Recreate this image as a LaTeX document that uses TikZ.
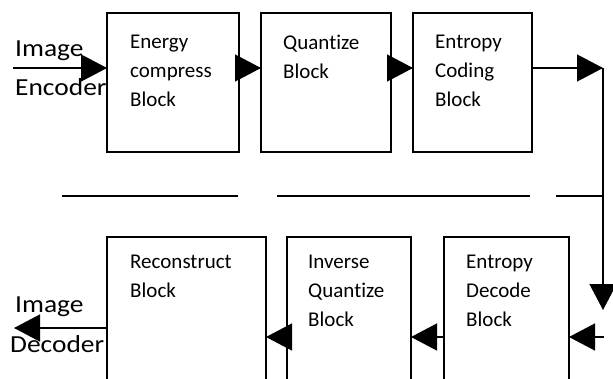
\documentclass[tikz,border=0pt]{standalone}
\usepackage{fontspec}
\setmainfont[RawFeature={-liga}]{Carlito}
\newfontfamily\lblfont[FakeStretch=1.12,RawFeature={-liga}]{Carlito}
\usetikzlibrary{arrows.meta,calc}
\begin{document}
\begin{tikzpicture}[x=1pt,y=-1pt,
  blk/.style={draw=black, line width=1.2pt, anchor=north west, inner sep=0pt, outer sep=0pt},
  blktext/.style={anchor=north west, align=left, inner sep=0pt, font=\fontsize{21}{29}\selectfont, text=black},
  lbl/.style={anchor=base west, inner sep=0pt, font=\lblfont\fontsize{24.5}{29}\selectfont, text=black},
  arr/.style={line width=1.3pt, -{Triangle[length=26pt,width=27pt]}},
  sepline/.style={line width=1.2pt}]
\useasboundingbox (0,0) rectangle (613,378);
\clip (0,0) rectangle (613,378);
% top row
\node[blk, minimum width=132pt, minimum height=139pt] (b1) at (107,13) {};
\node[blk, minimum width=130pt, minimum height=139pt] (b2) at (261,13) {};
\node[blk, minimum width=119pt, minimum height=139pt] (b3) at (413,13) {};
\node[blktext] (t1) at ($(b1.north west)+(23,22)$) {Energy\\compress\\Block};
\node[blktext] (t2) at ($(b2.north west)+(22,22)$) {Quantize\\Block};
\node[blktext] (t3) at ($(b3.north west)+(22,22)$) {Entropy\\Coding\\Block};
% bottom row
\node[blk, minimum width=159pt, minimum height=150pt] (d1) at (107,237) {};
\node[blk, minimum width=124pt, minimum height=150pt] (d2) at (287,237) {};
\node[blk, minimum width=125pt, minimum height=150pt] (d3) at (444,237) {};
\node[blktext] (s1) at ($(d1.north west)+(23,18)$) {Reconstruct\\Block};
\node[blktext] (s2) at ($(d2.north west)+(21,18)$) {Inverse\\Quantize\\Block};
\node[blktext] (s3) at ($(d3.north west)+(22,18)$) {Entropy\\Decode\\Block};
% separator
\coordinate (sa1) at (62,196);  \coordinate (sa2) at (238,196);
\coordinate (sb1) at (277,196); \coordinate (sb2) at (530,196);
\coordinate (sc1) at (556,196); \coordinate (sc2) at (603,196);
\draw[sepline] (sa1) -- (sa2);
\draw[sepline] (sb1) -- (sb2);
\draw[sepline] (sc1) -- (sc2);
% connectors
\coordinate (inS) at (13,68);
\coordinate (corner) at (603,68);
\coordinate (down) at (603,310);
\coordinate (rin) at (604,337);
\coordinate (outE) at (14,328);
\draw[arr] (inS) -- (b1.west |- inS);
\draw[arr] (b1.east |- inS) -- (b2.west |- inS);
\draw[arr] (b2.east |- inS) -- (b3.west |- inS);
\draw[arr] (b3.east |- inS) -- (corner);
\draw[arr] (corner) -- (down);
\draw[arr] (rin) -- (d3.east |- rin);
\draw[arr] (d3.west |- rin) -- (d2.east |- rin);
\draw[arr] (d2.west |- rin) -- (d1.east |- rin);
\draw[arr] (d1.west |- outE) -- (outE);
% labels
\node[lbl] (l1) at (15,56) {Image};
\node[lbl] (l2) at (15,95) {Encoder};
\node[lbl] (l3) at (15,312) {Image};
\node[lbl] (l4) at (10,352) {Decoder};
\end{tikzpicture}
\end{document}
